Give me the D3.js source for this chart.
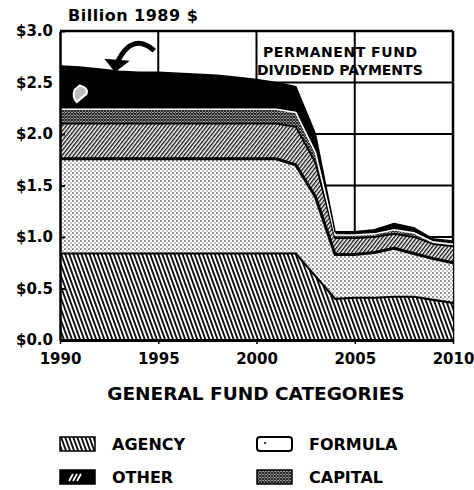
<!DOCTYPE html>
<html>
<head>
<meta charset="utf-8">
<style>
body { margin: 0; background: #fff; }
svg { display: block; font-family: "DejaVu Sans", sans-serif; font-weight: bold; }
</style>
</head>
<body>
<svg width="474" height="490"></svg>
<script src="https://cdn.jsdelivr.net/npm/d3@7"></script>
<script>

// values, billion 1989 $
var years    = d3.range(1990, 2011);
var agency   = [0.84, 0.84, 0.84, 0.84, 0.84, 0.84, 0.84, 0.84, 0.84, 0.84, 0.84, 0.84, 0.84, 0.62, 0.40, 0.41, 0.41, 0.42, 0.42, 0.39, 0.36];
var formula  = [0.92, 0.92, 0.92, 0.92, 0.92, 0.92, 0.92, 0.92, 0.92, 0.92, 0.92, 0.92, 0.86, 0.77, 0.43, 0.42, 0.44, 0.47, 0.42, 0.40, 0.39];
var other    = [0.34, 0.34, 0.34, 0.34, 0.34, 0.34, 0.34, 0.34, 0.34, 0.34, 0.34, 0.34, 0.37, 0.33, 0.16, 0.16, 0.15, 0.14, 0.16, 0.14, 0.16];
var capital  = [0.14, 0.14, 0.14, 0.14, 0.14, 0.14, 0.14, 0.14, 0.14, 0.14, 0.14, 0.14, 0.14, 0.10, 0.03, 0.03, 0.03, 0.04, 0.04, 0.02, 0.02];
var dividend = [0.42, 0.41, 0.39, 0.37, 0.36, 0.36, 0.35, 0.34, 0.33, 0.31, 0.29, 0.26, 0.25, 0.18, 0.03, 0.03, 0.04, 0.06, 0.05, 0.03, 0.03];

var yTicks = [0, 0.5, 1.0, 1.5, 2.0, 2.5, 3.0];
var xTicks = [1990, 1995, 2000, 2005, 2010];
var gridYears = [1995, 2000, 2005];
var gridValues = [0.5, 1.0, 1.5, 2.0, 2.5];

var keys = ["agency", "formula", "other", "capital", "dividend"];
var legendItems = [
  {key: "agency", label: "AGENCY", col: 0, row: 0},
  {key: "other", label: "OTHER", col: 0, row: 1},
  {key: "formula", label: "FORMULA", col: 1, row: 0},
  {key: "capital", label: "CAPITAL", col: 1, row: 1}
];

var table = years.map(function(yr, i) {
  return {year: yr, agency: agency[i], formula: formula[i], other: other[i],
          capital: capital[i], dividend: dividend[i]};
});

var svg = d3.select("svg");

var x = d3.scaleLinear().domain([1990, 2010]).range([60, 453]);
var y = d3.scaleLinear().domain([0, 3]).range([340, 31]);

// fill patterns
var defs = svg.append("defs");

function stripes(id, period, width, angle) {
  var p = defs.append("pattern")
      .attr("id", id)
      .attr("patternUnits", "userSpaceOnUse")
      .attr("width", period)
      .attr("height", period)
      .attr("patternTransform", "rotate(" + angle + ")");
  p.append("rect").attr("width", period).attr("height", period).attr("fill", "#fff");
  p.append("rect").attr("width", width).attr("height", period).attr("fill", "#111");
}
stripes("agencyFill", 3.8, 1.9, -20);
stripes("otherFill", 3.0, 1.4, 38);

var pf = defs.append("pattern")
    .attr("id", "formulaFill")
    .attr("patternUnits", "userSpaceOnUse")
    .attr("width", 4).attr("height", 4);
pf.append("rect").attr("width", 4).attr("height", 4).attr("fill", "#fff");
pf.append("circle").attr("cx", 1).attr("cy", 1).attr("r", 0.9).attr("fill", "#666");
pf.append("circle").attr("cx", 3).attr("cy", 3).attr("r", 0.8).attr("fill", "#888");

var pc = defs.append("pattern")
    .attr("id", "capitalFill")
    .attr("patternUnits", "userSpaceOnUse")
    .attr("width", 3).attr("height", 3);
pc.append("rect").attr("width", 3).attr("height", 3).attr("fill", "#ccc");
pc.append("path").attr("d", "M0,0L3,3M3,0L0,3").attr("stroke", "#222").attr("stroke-width", 1.1);

var fills = {agency: "url(#agencyFill)", formula: "url(#formulaFill)", other: "url(#otherFill)",
             capital: "url(#capitalFill)", dividend: "#000"};

// grid behind the areas
svg.append("g").selectAll("line")
  .data(gridYears)
  .enter().append("line")
    .attr("x1", function(d) { return x(d); })
    .attr("x2", function(d) { return x(d); })
    .attr("y1", y(3)).attr("y2", y(0))
    .attr("stroke", "#000").attr("stroke-width", 2);

svg.append("g").selectAll("line")
  .data(gridValues)
  .enter().append("line")
    .attr("x1", x(1990)).attr("x2", x(2010))
    .attr("y1", function(d) { return y(d); })
    .attr("y2", function(d) { return y(d); })
    .attr("stroke", "#000").attr("stroke-width", 2);

// frame
svg.append("line").attr("x1", x(1990)).attr("x2", x(2010)).attr("y1", y(3)).attr("y2", y(3))
    .attr("stroke", "#000").attr("stroke-width", 2.5);
svg.append("line").attr("x1", x(2010)).attr("x2", x(2010)).attr("y1", y(3)).attr("y2", y(0))
    .attr("stroke", "#000").attr("stroke-width", 2.5);

// label box text
svg.append("text").attr("x", 263).attr("y", 57).attr("font-size", 14)
    .attr("textLength", 154).attr("lengthAdjust", "spacing").text("PERMANENT FUND");
svg.append("text").attr("x", 257).attr("y", 75).attr("font-size", 14).text("DIVIDEND PAYMENTS");

// stacked areas
var series = d3.stack().keys(keys)(table);

var area = d3.area()
    .x(function(d) { return x(d.data.year); })
    .y0(function(d) { return y(d[0]); })
    .y1(function(d) { return y(d[1]); });

var topLine = d3.line()
    .x(function(d) { return x(d.data.year); })
    .y(function(d) { return y(d[1]); });

svg.append("g").selectAll("path")
  .data(series)
  .enter().append("path")
    .attr("fill", function(d) { return fills[d.key]; })
    .attr("d", area);

var lineStyle = {
  agency: ["#000", 2.2],
  formula: ["#000", 3],
  other: ["#000", 1.8],
  capital: ["#fff", 1.6],
  dividend: ["#000", 1.5]
};

svg.append("g").selectAll("path")
  .data(series)
  .enter().append("path")
    .attr("fill", "none")
    .attr("stroke", function(d) { return lineStyle[d.key][0]; })
    .attr("stroke-width", function(d) { return lineStyle[d.key][1]; })
    .attr("d", topLine);

// curved arrow pointing at the dividend layer
svg.append("path")
    .attr("d", "M" + x(1994.8) + "," + y(2.81) + "Q" + x(1993.7) + "," + y(2.99) + " " + x(1992.95) + "," + y(2.71))
    .attr("fill", "none").attr("stroke", "#000").attr("stroke-width", 5);
svg.append("path")
    .attr("d", "M" + x(1992.25) + "," + y(2.73) + "L" + x(1993.55) + "," + y(2.71) + "L" + x(1992.8) + "," + y(2.60) + "Z")
    .attr("fill", "#000");

// small white drop in the black band
svg.append("path")
    .attr("d", "M" + x(1991.0) + "," + y(2.47) + "Q" + x(1991.45) + "," + y(2.45) + " " + x(1991.35) + "," + y(2.39) +
               "L" + x(1990.85) + "," + y(2.31) + "Q" + x(1990.6) + "," + y(2.36) + " " + x(1990.75) + "," + y(2.43) + "Z")
    .attr("fill", "#bbb").attr("stroke", "#fff").attr("stroke-width", 2);

// axes
var yAxis = svg.append("g")
    .attr("transform", "translate(" + x(1990) + ",0)")
    .call(d3.axisLeft(y)
      .tickValues(yTicks)
      .tickFormat(function(d) { return "$" + d.toFixed(1); })
      .tickSizeInner(-5)
      .tickSizeOuter(0)
      .tickPadding(7));
yAxis.select(".domain").attr("stroke-width", 2.5);
yAxis.selectAll(".tick line").attr("stroke-width", 2);
yAxis.selectAll("text").attr("font-size", 15).attr("font-family", "DejaVu Sans").attr("font-weight", "bold").attr("fill", "#000");

var xAxis = svg.append("g")
    .attr("transform", "translate(0," + y(0) + ")")
    .call(d3.axisBottom(x)
      .tickValues(xTicks)
      .tickFormat(d3.format("d"))
      .tickSizeInner(4)
      .tickSizeOuter(0)
      .tickPadding(9));
xAxis.select(".domain").attr("stroke-width", 3);
xAxis.selectAll(".tick line").attr("stroke-width", 1.5);
xAxis.selectAll("text").attr("font-size", 15).attr("font-family", "DejaVu Sans").attr("font-weight", "bold").attr("fill", "#000");

svg.append("text")
    .attr("x", 68).attr("y", 21)
    .attr("font-size", 16)
    .attr("letter-spacing", 0.5)
    .text("Billion 1989 $");

svg.append("text")
    .attr("x", 256).attr("y", 400)
    .attr("text-anchor", "middle")
    .attr("font-size", 18.5)
    .text("GENERAL FUND CATEGORIES");

// legend
var legend = svg.append("g").selectAll("g")
  .data(legendItems)
  .enter().append("g")
    .attr("transform", function(d) { return "translate(" + (60 + d.col * 197) + "," + (437 + d.row * 33) + ")"; });

legend.append("rect")
    .attr("width", 35).attr("height", 14)
    .attr("rx", function(d) { return d.key === "formula" ? 3 : 0; })
    .attr("fill", function(d) { return d.key === "other" ? "#000" : d.key === "formula" ? "#fff" : fills[d.key]; })
    .attr("stroke", "#000")
    .attr("stroke-width", function(d) { return d.key === "formula" ? 2 : 1.5; });

legend.filter(function(d) { return d.key === "other"; })
  .append("path")
    .attr("d", "M9,11L13,4M13,11L17,4M17,11L21,4")
    .attr("stroke", "#fff").attr("stroke-width", 1.8);

legend.filter(function(d) { return d.key === "formula"; })
  .append("circle")
    .attr("cx", 8).attr("cy", 6).attr("r", 1).attr("fill", "#000");

legend.append("text")
    .attr("x", 52).attr("y", 13)
    .attr("font-size", 16)
    .text(function(d) { return d.label; });

</script>
</body>
</html>
